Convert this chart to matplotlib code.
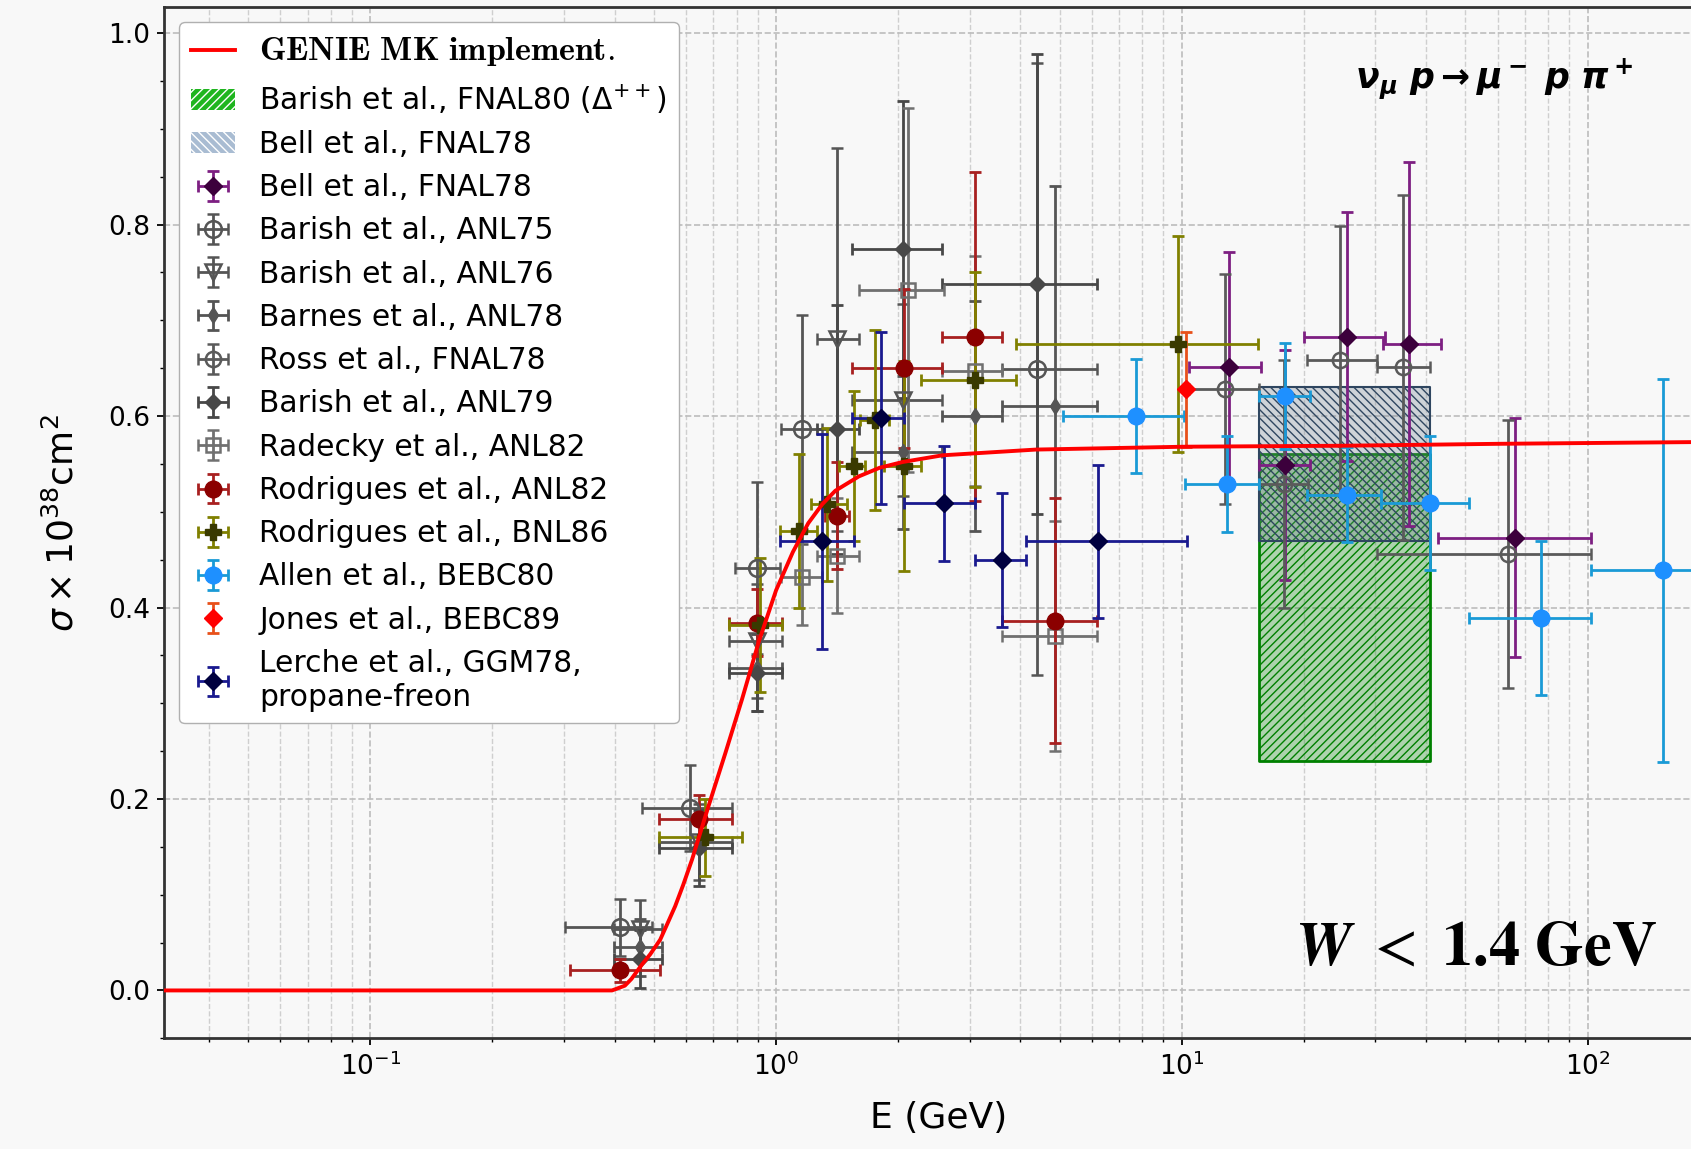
#!/usr/bin/env python
# -*- coding: utf-8 -*-

import numpy as np
import matplotlib
matplotlib.use("Agg")
import matplotlib.pyplot as plt
from matplotlib.patches import Patch


# GENIE MK curve
genie_E = [0.03, 0.2, 0.35, 0.394, 0.40, 0.424, 0.44, 0.467, 0.49, 0.518,
           0.54, 0.564, 0.59, 0.621, 0.682, 0.75, 0.824, 0.906, 1.0, 1.1,
           1.2, 1.3, 1.4, 1.6, 1.8, 2.05, 2.57, 4.37, 10.2, 25.0, 60.0, 205.0]
genie_sig = [0.0, 0.0, 0.0, 0.0, 0.001, 0.005, 0.012, 0.027, 0.038, 0.053,
             0.07, 0.088, 0.11, 0.137, 0.193, 0.248, 0.304, 0.364, 0.418, 0.458,
             0.488, 0.508, 0.522, 0.537, 0.546, 0.552, 0.559, 0.565, 0.568, 0.569,
             0.571, 0.573]

# hatched bands (E range and sigma range)
band_E = [15.5, 41.0]
fnal80_sig = [0.24, 0.56]
bell_band_sig = [0.47, 0.63]

# Bell et al., FNAL78
bell_E = [13.1, 18.0, 25.6, 36.4, 66.4]
bell_sig = [0.651, 0.549, 0.683, 0.675, 0.473]
bell_Elo = [10.4, 15.5, 20.0, 31.3, 42.8]
bell_Ehi = [15.7, 20.7, 31.6, 43.5, 102.0]
bell_err = [0.12, 0.12, 0.13, 0.19, 0.125]

# Barish et al., ANL75
anl75_E = [0.412, 0.614, 0.898, 1.159, 4.4]
anl75_sig = [0.066, 0.191, 0.441, 0.586, 0.649]
anl75_Elo = [0.302, 0.467, 0.79, 1.03, 3.61]
anl75_Ehi = [0.494, 0.778, 1.02, 1.30, 6.19]
anl75_err = [0.03, 0.045, 0.09, 0.12, 0.32]

# Barish et al., ANL76
anl76_E = [0.462, 0.646, 0.898, 1.414, 2.05]
anl76_sig = [0.064, 0.155, 0.365, 0.68, 0.617]
anl76_Elo = [0.398, 0.514, 0.766, 1.26, 1.54]
anl76_Ehi = [0.523, 0.778, 1.035, 1.60, 2.57]
anl76_err = [0.03, 0.04, 0.06, 0.2, 0.1]

# Barnes et al., ANL78
barnes_E = [0.462, 0.898, 2.05, 3.09, 4.88]
barnes_sig = [0.045, 0.337, 0.562, 0.600, 0.610]
barnes_Elo = [0.398, 0.766, 1.54, 2.57, 3.61]
barnes_Ehi = [0.523, 1.035, 2.57, 3.61, 6.19]
barnes_err = [0.03, 0.045, 0.08, 0.12, 0.23]

# Ross et al., FNAL78
ross_E = [12.8, 17.9, 24.5, 35.0, 63.8]
ross_sig = [0.628, 0.529, 0.659, 0.651, 0.456]
ross_Elo = [10.4, 15.5, 20.4, 30.2, 30.2]
ross_Ehi = [15.5, 20.5, 30.2, 41.0, 102.0]
ross_err = [0.12, 0.13, 0.14, 0.18, 0.14]

# Barish et al., ANL79
anl79_E = [0.462, 0.646, 0.898, 1.414, 2.05, 4.4]
anl79_sig = [0.033, 0.149, 0.332, 0.586, 0.774, 0.738]
anl79_Elo = [0.398, 0.514, 0.766, 1.26, 1.54, 2.57]
anl79_Ehi = [0.523, 0.778, 1.035, 1.60, 2.57, 6.19]
anl79_err = [0.03, 0.04, 0.04, 0.13, 0.155, 0.24]

# Radecky et al., ANL82
radecky_E = [1.159, 1.414, 2.12, 3.09, 4.88]
radecky_sig = [0.432, 0.454, 0.732, 0.647, 0.370]
radecky_Elo = [1.03, 1.26, 1.60, 2.57, 3.61]
radecky_Ehi = [1.30, 1.60, 2.60, 3.61, 6.19]
radecky_err = [0.05, 0.06, 0.19, 0.12, 0.12]

# Rodrigues et al., ANL82
rod82_E = [0.412, 0.646, 0.898, 1.414, 2.07, 3.09, 4.88]
rod82_sig = [0.021, 0.179, 0.384, 0.496, 0.650, 0.683, 0.386]
rod82_Elo = [0.310, 0.514, 0.766, 1.32, 1.54, 2.57, 3.61]
rod82_Ehi = [0.517, 0.779, 1.035, 1.51, 2.57, 3.61, 6.19]
rod82_err = [0.012, 0.025, 0.035, 0.056, 0.083, 0.172, 0.128]

# Rodrigues et al., BNL86
bnl86_E = [0.669, 0.915, 1.138, 1.336, 1.555, 1.758, 2.07, 3.09, 9.78]
bnl86_sig = [0.160, 0.382, 0.480, 0.508, 0.548, 0.596, 0.548, 0.638, 0.675]
bnl86_Elo = [0.514, 0.766, 1.025, 1.216, 1.428, 1.614, 1.842, 2.27, 3.9]
bnl86_Ehi = [0.824, 1.035, 1.262, 1.497, 1.66, 1.897, 2.27, 3.9, 15.4]
bnl86_err = [0.04, 0.07, 0.08, 0.08, 0.078, 0.094, 0.11, 0.112, 0.113]

# Allen et al., BEBC80
allen_E = [7.7, 12.9, 18.0, 25.6, 41.0, 76.7, 153.4]
allen_sig = [0.600, 0.529, 0.621, 0.518, 0.509, 0.389, 0.439]
allen_Elo = [5.1, 10.2, 15.5, 20.4, 31.0, 51.0, 102.0]
allen_Ehi = [10.1, 15.5, 20.7, 31.0, 51.0, 102.0, 230.0]
allen_err = [0.06, 0.05, 0.055, 0.05, 0.07, 0.08, 0.2]

# Jones et al., BEBC89
jones_E = [10.24]
jones_sig = [0.628]
jones_err = [0.06]

# Lerche et al., GGM78
lerche_E = [1.30, 1.81, 2.59, 3.61, 6.2]
lerche_sig = [0.469, 0.598, 0.509, 0.45, 0.469]
lerche_Elo = [1.025, 1.54, 2.07, 3.1, 4.12]
lerche_Ehi = [1.555, 2.07, 3.1, 4.12, 10.3]
lerche_err = [0.112, 0.09, 0.06, 0.07, 0.08]

BG = "#f8f8f8"


def xerr(E, lo, hi):
    E = np.asarray(E)
    return [E - np.asarray(lo), np.asarray(hi) - E]


def points(ax, E, sig, err, lo=None, hi=None, fmt="o", color="k", ecolor=None,
           ms=10, open_marker=False, label=None):
    xe = None if lo is None else xerr(E, lo, hi)
    kw = dict(mfc="none", mec=color, mew=1.8) if open_marker else dict(mfc=color, mec=color)
    return ax.errorbar(E, sig, xerr=xe, yerr=err, fmt=fmt, ms=ms,
                       ecolor=ecolor or color, elinewidth=2.0, capsize=4.5,
                       capthick=2.0, label=label, zorder=3, **kw)


def main():
    plt.rcParams["font.family"] = "DejaVu Sans"
    plt.rcParams["hatch.linewidth"] = 1.0

    fig = plt.figure(figsize=(16.91, 11.49), dpi=100, facecolor=BG)
    # axes run past the right edge of the picture (cropped original)
    ax = fig.add_axes([164 / 1691, 110.7 / 1149, 1550 / 1691, 1031 / 1149])
    ax.set_facecolor(BG)

    # bands
    ax.fill_between(band_E, fnal80_sig[0], fnal80_sig[1],
                    facecolor=(0.0, 0.5, 0.0, 0.3), edgecolor="green",
                    hatch="////", lw=2, zorder=1.5)
    ax.fill_between(band_E, bell_band_sig[0], bell_band_sig[1],
                    facecolor=(0.44, 0.5, 0.56, 0.3), edgecolor="#2f4660",
                    hatch="\\\\\\\\", lw=1.5, zorder=1.5)

    h = {}
    h["bell"] = points(ax, bell_E, bell_sig, bell_err, bell_Elo, bell_Ehi,
                       fmt="D", color="#3c003c", ecolor="#7d1f82", ms=9)
    h["anl75"] = points(ax, anl75_E, anl75_sig, anl75_err, anl75_Elo, anl75_Ehi,
                        fmt="o", color="#555555", ms=12, open_marker=True)
    h["anl76"] = points(ax, anl76_E, anl76_sig, anl76_err, anl76_Elo, anl76_Ehi,
                        fmt="v", color="#555555", ms=11, open_marker=True)
    h["barnes"] = points(ax, barnes_E, barnes_sig, barnes_err, barnes_Elo, barnes_Ehi,
                         fmt="d", color="#555555", ms=8)
    h["ross"] = points(ax, ross_E, ross_sig, ross_err, ross_Elo, ross_Ehi,
                       fmt="o", color="#5a5a5a", ms=11, open_marker=True)
    h["anl79"] = points(ax, anl79_E, anl79_sig, anl79_err, anl79_Elo, anl79_Ehi,
                        fmt="D", color="#484848", ms=8)
    h["radecky"] = points(ax, radecky_E, radecky_sig, radecky_err, radecky_Elo,
                          radecky_Ehi, fmt="s", color="#707070", ms=10, open_marker=True)
    h["rod82"] = points(ax, rod82_E, rod82_sig, rod82_err, rod82_Elo, rod82_Ehi,
                        fmt="o", color="#8b0000", ecolor="#a82020", ms=12)
    h["bnl86"] = points(ax, bnl86_E, bnl86_sig, bnl86_err, bnl86_Elo, bnl86_Ehi,
                        fmt="P", color="#3a3a00", ecolor="#808000", ms=11)
    h["allen"] = points(ax, allen_E, allen_sig, allen_err, allen_Elo, allen_Ehi,
                        fmt="o", color="#1e90ff", ecolor="#1a9ad6", ms=12)
    h["jones"] = points(ax, jones_E, jones_sig, jones_err,
                        fmt="D", color="red", ecolor="#e8501a", ms=9)
    h["lerche"] = points(ax, lerche_E, lerche_sig, lerche_err, lerche_Elo, lerche_Ehi,
                         fmt="D", color="#00003f", ecolor="#1a1a8f", ms=9)

    genie, = ax.plot(genie_E, genie_sig, color="red", lw=2.8, zorder=4)

    ax.set_xscale("log")
    ax.set_xlim(0.031, 205)
    ax.set_ylim(-0.049, 1.027)
    ax.set_yticks([0.0, 0.2, 0.4, 0.6, 0.8, 1.0])
    ax.set_yticks(np.arange(-0.05, 1.03, 0.05), minor=True)

    ax.set_axisbelow(True)
    ax.grid(which="major", ls="--", color="#bdbdbd", lw=1.2)
    ax.grid(which="minor", axis="x", ls="--", color="#cfcfcf", lw=1.0)

    for s in ax.spines.values():
        s.set_color("#333333")
        s.set_linewidth(2.0)
    ax.tick_params(which="major", labelsize=19, length=5, width=1.3, pad=5)
    ax.tick_params(which="minor", length=3, width=1.0)

    ax.set_xlabel("E (GeV)", fontsize=26)
    ax.xaxis.set_label_coords(0.5, -0.061)
    ax.set_ylabel(r"$\sigma \times 10^{38} \mathrm{cm}^2$", fontsize=26)
    ax.yaxis.set_label_coords(-0.054, 0.5)

    ax.text(0.948, 0.9217, r"$\mathbfit{\nu_\mu\ p \rightarrow \mu^-\ p\ \pi^+}$",
            transform=ax.transAxes, ha="right", va="baseline", fontsize=25,
            math_fontfamily="dejavusans")
    ax.text(0.963, 0.0711, r"$\mathbfit{W}\ <\ \mathbf{1.4\ GeV}$",
            transform=ax.transAxes, ha="right", va="baseline", fontsize=45,
            math_fontfamily="stix")

    green_proxy = Patch(facecolor="#1fb51f", edgecolor="white", hatch="////", lw=0)
    bell_proxy = Patch(facecolor="#a9bcd2", edgecolor="white", hatch="\\\\\\\\", lw=0)

    handles = [genie, green_proxy, bell_proxy, h["bell"], h["anl75"], h["anl76"],
               h["barnes"], h["ross"], h["anl79"], h["radecky"], h["rod82"],
               h["bnl86"], h["allen"], h["jones"], h["lerche"]]
    labels = [r"$\mathbf{GENIE\ MK\ implement.}$",
              r"Barish et al., FNAL80 ($\Delta^{++}$)",
              "Bell et al., FNAL78",
              "Bell et al., FNAL78",
              "Barish et al., ANL75",
              "Barish et al., ANL76",
              "Barnes et al., ANL78",
              "Ross et al., FNAL78",
              "Barish et al., ANL79",
              "Radecky et al., ANL82",
              "Rodrigues et al., ANL82",
              "Rodrigues et al., BNL86",
              "Allen et al., BEBC80",
              "Jones et al., BEBC89",
              "Lerche et al., GGM78,\npropane-freon"]
    leg = ax.legend(handles, labels, loc="upper left", fontsize=21.4,
                    labelspacing=0.48, handlelength=1.5, handletextpad=0.8,
                    framealpha=1.0, facecolor="white", edgecolor="#b0b0b0")
    leg.get_texts()[0].set_math_fontfamily("cm")
    leg.get_texts()[0].set_fontsize(24.4)
    leg.set_zorder(10)

    fig.savefig("out.png", dpi=100, facecolor=fig.get_facecolor())


if __name__ == "__main__":
    main()
